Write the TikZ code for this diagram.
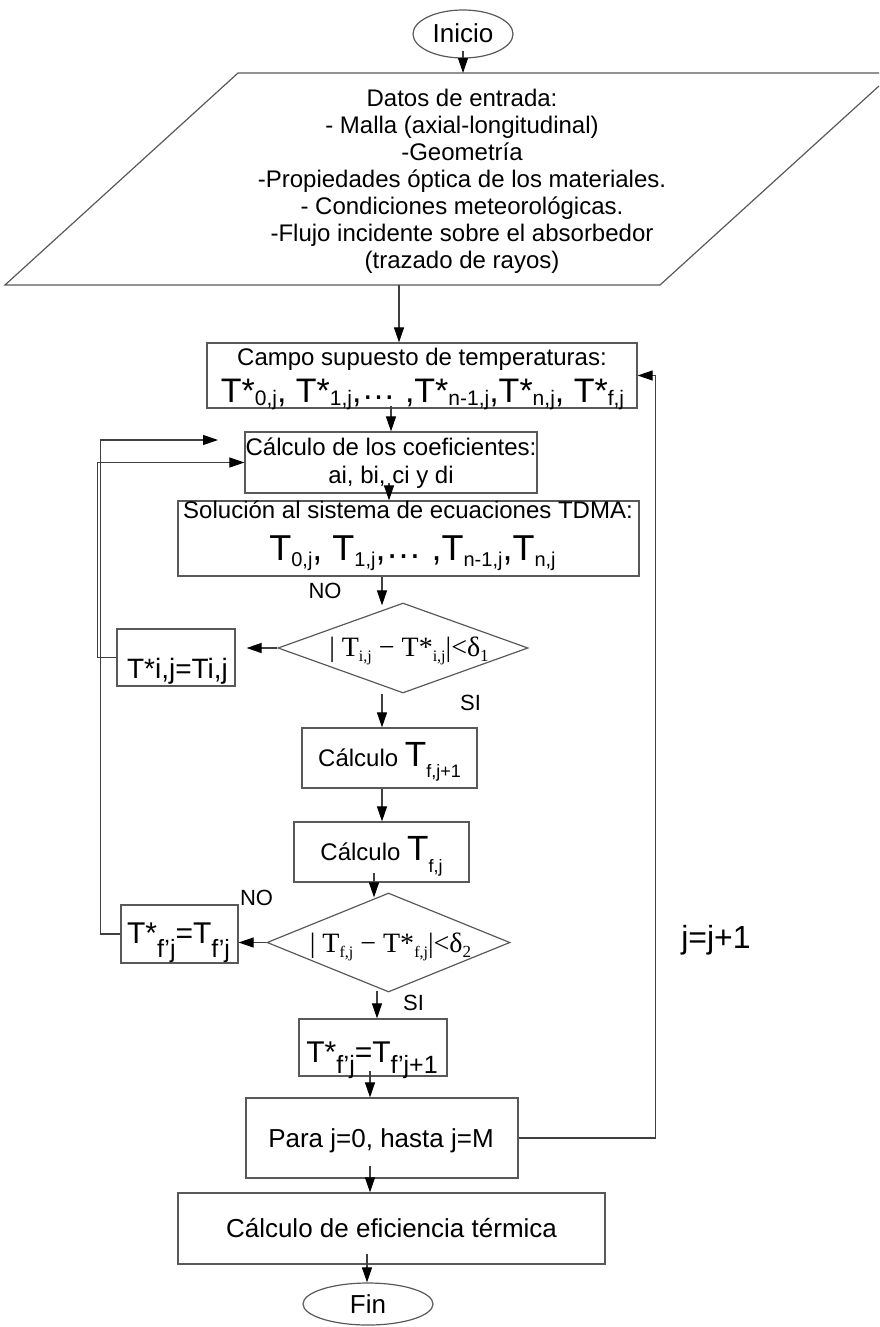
\documentclass[tikz,border=0pt]{standalone}
\usepackage{fontspec}
\setmainfont{Liberation Sans}
\newfontfamily\timesfam{Liberation Serif}
\usetikzlibrary{arrows.meta,shapes.geometric,calc}
% font size helper and lowered subscript helper
\newcommand\fsz[1]{\fontsize{#1}{#1}\selectfont}
\newcommand\sublo[3]{\raisebox{-#2pt}{\fsz{#1}#3}}

\begin{document}
\begin{tikzpicture}[x=1pt,y=-1pt,
  box/.style={draw=black!65, line width=1.2pt, inner sep=0pt},
  txt/.style={inner sep=0pt, font=\fontsize{24}{27}\selectfont},
  lbl/.style={inner sep=0pt, font=\fsz{22}},
  wire/.style={draw=black!75, line width=1.1pt},
  arr/.style={wire, -{Triangle[length=15pt,width=10pt,color=black]}}]
\useasboundingbox (0,0) rectangle (879,1327);

% x positions of the vertical flow lines
\coordinate (vA) at (389,0);
\coordinate (vB) at (382,0);
\coordinate (vC) at (374,0);
\coordinate (vD) at (377,0);
\coordinate (vE) at (370,0);
\coordinate (vF) at (367,0);
\coordinate (loopB) at (218,440);

% start
\node[box, ellipse, minimum width=100pt, minimum height=48pt] (inicio) at (463,34) {};
\node[txt, anchor=base] (inicioT) at (463,43) {\fsz{26}Inicio};

% input data
\draw[box] (879,86) -- (660,285) -- (5,285) -- (238,73) -- (879,73);
\coordinate (datosTop) at (463,73);
\coordinate (datosBot) at (399,285);
\node[txt, align=center] (datos) at (462,181) {Datos de entrada:\\- Malla (axial-longitudinal)\\-Geometría\\-Propiedades óptica de los materiales.\\- Condiciones meteorológicas.\\-Flujo incidente sobre el absorbedor\\(trazado de rayos)};

% assumed temperature field
\node[box, minimum width=430pt, minimum height=65pt] (campo) at (422,375.5) {};
\node[txt, anchor=base] (campoT1) at (422,365) {Campo supuesto de temperaturas:};
\node[txt, anchor=base] (campoT2) at (422.5,402) {\fsz{34}T*\sublo{21}{3}{0,j}, T*\sublo{21}{3}{1,j},\raisebox{3pt}{…} ,T*\sublo{21}{3}{n-1,j},T*\sublo{21}{3}{n,j}, T*\sublo{21}{3}{f,j}};

% coefficients
\node[box, minimum width=292pt, minimum height=61pt] (coef) at (391,462.5) {};
\node[txt, anchor=base] (coefT1) at (391,455) {Cálculo de los coeficientes:};
\node[txt, anchor=base] (coefT2) at (391,483) {ai, bi, ci y di};

% TDMA
\node[box, minimum width=461pt, minimum height=75pt] (tdma) at (408.5,538.5) {};
\node[txt, anchor=base] (tdmaT1) at (408,518) {Solución al sistema de ecuaciones TDMA:};
\node[txt, anchor=base] (tdmaT2) at (412.5,560) {\fsz{36}T\sublo{20}{6}{0,j}, T\sublo{20}{6}{1,j},\raisebox{2pt}{…} ,T\sublo{20}{6}{n-1,j},T\sublo{20}{6}{n,j}};

% first convergence test
\node[box, diamond, aspect=2.78, minimum width=250pt, minimum height=90pt] (dA) at (403,648) {};
\node[inner sep=0pt, anchor=base] (dAT) at (409,656) {\timesfam\fsz{28}| T\sublo{16}{5}{i,j} − T*\sublo{16}{5}{i,j}|<δ\sublo{17}{5}{1}};

\node[box, minimum width=118pt, minimum height=57pt] (tij) at (176,657.5) {};
\node[txt, anchor=base] (tijT) at (177.5,678) {\fsz{28}T*i,j=Ti,j};

% fluid temperature steps
\node[box, minimum width=175pt, minimum height=60pt] (ctfa) at (389.5,758) {};
\node[txt, anchor=base] (ctfaT) at (389.5,766) {\fsz{24}Cálculo \fsz{35}T\sublo{18}{11}{f,j+1}};
\node[box, minimum width=175pt, minimum height=60pt] (ctf) at (381.5,852) {};
\node[txt, anchor=base] (ctfT) at (381.5,860) {\fsz{24}Cálculo \fsz{35}T\sublo{18}{12}{f,j}};

% second convergence test
\node[box, diamond, aspect=2.45, minimum width=243pt, minimum height=99pt] (dB) at (388.5,942.5) {};
\node[inner sep=0pt, anchor=base] (dBT) at (390.5,952) {\timesfam\fsz{28}| T\sublo{16}{5}{f,j} − T*\sublo{16}{5}{f,j}|<δ\sublo{17}{5}{2}};

\node[box, minimum width=117pt, minimum height=58pt] (tfj) at (179.5,934) {};
\node[txt, anchor=base] (tfjT) at (178.5,943) {\fsz{30}T*\sublo{25}{14}{f’j}=T\sublo{25}{14}{f’j}};

\node[box, minimum width=148pt, minimum height=57pt] (tfja) at (373,1047.5) {};
\node[txt, anchor=base] (tfjaT) at (372,1062) {\fsz{30}T*\sublo{25}{11}{f’j}=T\sublo{25}{11}{f’j+1}};

% loop over j and final steps
\node[box, minimum width=272pt, minimum height=80pt] (para) at (382,1138) {};
\node[txt, anchor=base] (paraT) at (381,1147) {\fsz{26}Para j=0, hasta j=M};
\node[box, minimum width=427pt, minimum height=71pt] (efic) at (391.5,1228.5) {};
\node[txt, anchor=base] (eficT) at (391.5,1237) {\fsz{26}Cálculo de eficiencia térmica};
\node[box, ellipse, minimum width=130pt, minimum height=42pt] (fin) at (368,1304) {};
\node[txt, anchor=base] (finT) at (368,1313) {\fsz{26}Fin};

% labels
\node[lbl] (noA) at (325,591) {NO};
\node[lbl] (siA) at (470.5,703) {SI};
\node[lbl] (noB) at (256.5,898) {NO};
\node[lbl] (siB) at (413.5,1003) {SI};
\node[inner sep=0pt, font=\fsz{32}] (jinc) at (716,940) {j=j+1};

% main flow
\draw[arr] ($(inicio.south)+(0,-8)$) -- (datosTop);
\draw[arr] (datosBot) -- (datosBot |- campo.north);
\draw[arr] ($(campo.south -| coef.north)+(0,-3)$) -- (coef.north);
\draw[arr] ($(vA |- coef.south)+(0,-11)$) -- (vA |- tdma.north);
\draw[arr] (vB |- tdma.south) -- ($(vB |- dA.north)+(0,3)$);
\draw[arr] (vB |- dA.south) -- (vB |- ctfa.north);
\draw[arr] (vB |- ctfa.south) -- (vB |- ctf.north);
\draw[arr] ($(vC |- ctf.south)+(0,-10)$) -- ($(vC |- dB.north)+(0,5)$);
\draw[arr] ($(vD |- dB.south)+(0,-2)$) -- (vD |- tfja.north);
\draw[arr] ($(vE |- tfja.south)+(0,-6)$) -- (vE |- para.north);
\draw[arr] ($(vE |- para.south)+(0,-13)$) -- (vE |- efic.north);
\draw[arr] ($(vF |- efic.south)+(0,-11)$) -- (vF |- fin.north);

% branches and loops
\draw[arr, shorten >=11pt] (dA.west) -- (dA.west -| tij.east);
\draw[arr] (dB.west) -- (dB.west -| tfj.east);
\draw[arr] (tij.west) -- ++(-19,0) |- (coef.west);
\draw[arr] (tfj.west) -- ++(-20,0) |- (loopB);
\draw[arr] (para.east) -- ++(137,0) |- (campo.east);
\end{tikzpicture}
\end{document}
